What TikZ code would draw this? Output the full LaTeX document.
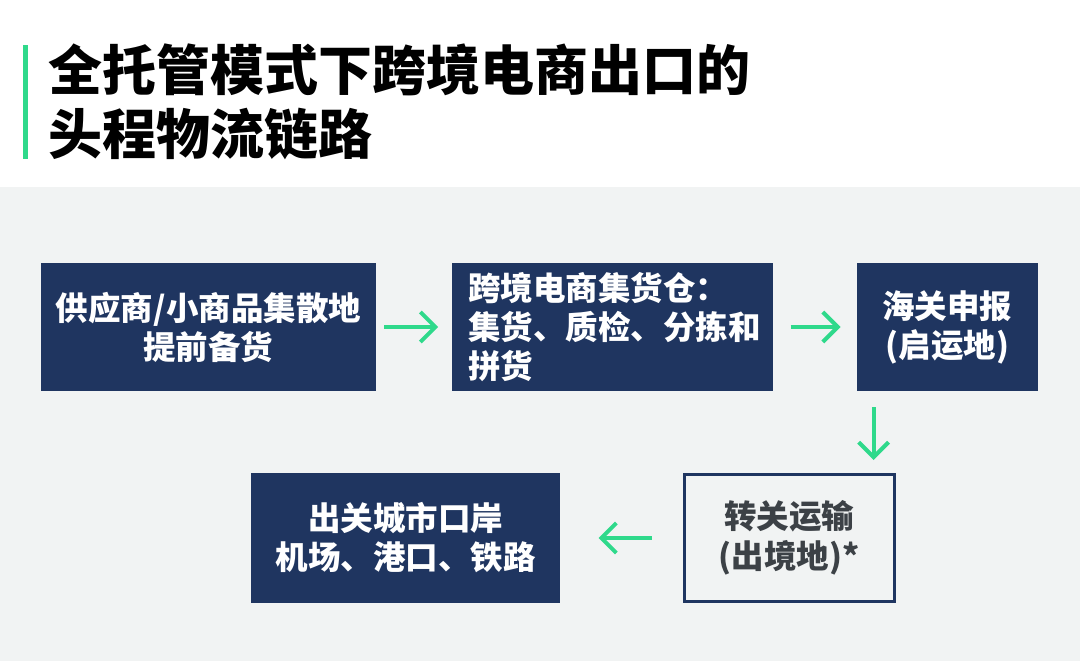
\documentclass[tikz,border=0pt]{standalone}
\usepackage{fontspec}
\setmainfont{Noto Sans CJK SC}
\usetikzlibrary{positioning, calc, arrows.meta}
\definecolor{navy}{HTML}{1F3560}
\definecolor{mint}{HTML}{2FD98B}
\definecolor{panel}{HTML}{F1F3F3}
\definecolor{inkgray}{HTML}{3C4146}

\begin{document}
\begin{tikzpicture}[x=1pt, y=-1pt,
stage/.style={rectangle, fill=navy, text=white, minimum height=128pt, inner sep=0pt, align=center, font=\bfseries\fontsize{32.5}{39}\selectfont},
transit/.style={rectangle, draw=navy, line width=3pt, fill=panel, text=inkgray, minimum width=210pt, minimum height=127pt, inner sep=0pt, align=center, font=\bfseries\fontsize{32.5}{40}\selectfont},
flow/.style={mint, line width=4pt, -{Straight Barb[length=15pt, width=30pt]}} ]
\useasboundingbox (0,0) rectangle (1080,661);
\fill[white] (0,0) rectangle (1080,661);
\fill[panel] (0,187) rectangle (1080,661);
\fill[mint] (23,45) rectangle (28,159);
\node (title) [anchor=west, inner sep=0pt, align=left, font=\bfseries\fontsize{54}{64}\selectfont] at (48,102) {全托管模式下跨境电商出口的\\头程物流链路};

\node (supply) [stage, minimum width=335pt] at (208.5,327) {供应商/小商品集散地\\提前备货};
\node (hub) [stage, right=76pt of supply, text width=289pt, inner xsep=16pt, align=left] {跨境电商集货仓：\\集货、质检、分拣和\\拼货};
\node (customs) [stage, right=83pt of hub, minimum width=181pt] {海关申报\\(启运地)};
\node (trans) [transit] at (789,538) {转关运输\\(出境地)*};
\node (port) [stage, left=122pt of trans, minimum width=309pt, minimum height=130pt] {出关城市口岸\\机场、港口、铁路};

\draw[flow, shorten <=8pt, shorten >=14pt] (supply) -- (hub);
\draw[flow, shorten <=17pt, shorten >=16pt] (hub) -- (customs);
\draw[flow, shorten <=16pt, shorten >=13pt] ([xshift=17pt]customs.south west) -- ([xshift=17pt]customs.south west |- trans.north);
\draw[flow, shorten <=31pt, shorten >=38pt] (trans) -- (port);
\end{tikzpicture}
\end{document}
